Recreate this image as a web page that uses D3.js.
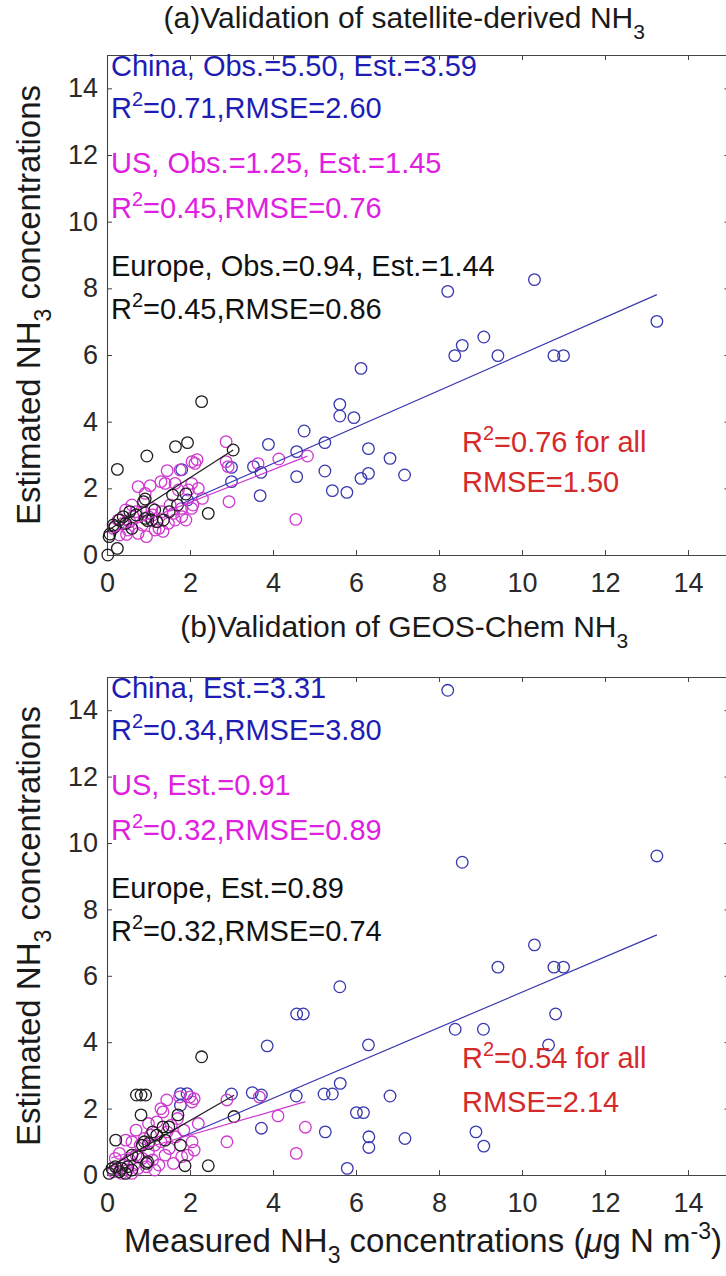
<!DOCTYPE html>
<html><head><meta charset="utf-8">
<script src="https://cdn.jsdelivr.net/npm/d3@7"></script>
<style>body{margin:0;background:#fff}svg{display:block}text{font-family:"Liberation Sans",Arial,Helvetica,sans-serif}</style>
</head><body><svg id="c" width="726" height="1276"></svg>
<script>
// ---------- data ----------
const xTicks=[0,2,4,6,8,10,12,14];
const yTicks=[0,2,4,6,8,10,12,14];

// Panel (a) satellite-derived: [measured, estimated]
const chinaA=[[10.3,8.26],[8.21,7.91],[13.25,7.01],[9.08,6.54],[8.56,6.29],[8.38,5.98],[9.42,5.98],[10.77,5.98],[11.0,5.98],[6.12,5.6],[5.61,4.52],[5.61,4.17],[5.95,4.12],[4.75,3.72],[5.25,3.37],[6.3,3.19],[6.82,2.9],[5.25,2.52],[6.3,2.45],[6.12,2.3],[7.17,2.4],[5.43,1.93],[5.78,1.88],[4.57,2.35],[3.89,3.32],[4.57,3.1],[3.53,2.65],[3.71,2.48],[3.0,2.63],[3.0,2.2],[3.69,1.78],[1.94,1.65],[1.8,2.56]];
const usA=[[2.87,3.4],[2.17,2.86],[2.05,2.8],[2.12,2.75],[2.87,2.8],[2.92,2.65],[2.94,1.6],[4.55,1.07],[4.83,2.97],[4.14,2.88],[3.64,2.74],[1.45,2.53],[1.76,2.55],[1.04,2.08],[0.75,2.05],[1.4,2.15],[1.3,2.2],[0.92,1.85],[2.04,2.15],[1.96,1.95],[1.72,1.95],[1.64,2.15],[2.07,1.5],[1.35,0.71],[0.6,1.5],[1.08,1.4],[1.52,1.5],[1.8,1.4],[2.04,1.4],[0.39,0.95],[0.51,0.75],[0.75,0.65],[1.16,0.75],[1.25,0.8],[1.48,0.95],[1.64,1.05],[1.8,1.15],[0.63,1.15],[0.27,1.05],[1.0,1.15],[1.1,1.2],[1.32,1.3],[0.15,0.8],[0.47,0.62],[0.88,1.3],[0.7,1.3],[0.55,1.0],[0.85,0.9],[1.2,1.0],[0.3,0.6],[0.95,0.55],[1.6,1.25],[0.45,1.35],[2.3,1.7],[1.9,1.05],[2.2,2.0]];
const europeA=[[0.02,0.0],[0.25,0.2],[0.07,0.63],[0.05,0.55],[0.15,0.9],[0.19,0.85],[0.39,1.15],[0.55,1.3],[0.25,2.57],[0.96,2.97],[1.65,3.25],[1.94,3.37],[2.28,4.6],[3.04,3.15],[2.44,1.25],[0.92,1.68],[0.88,1.6],[1.58,1.8],[1.9,1.83],[0.92,1.1],[0.98,1.03],[1.08,1.05],[1.2,1.0],[1.36,1.05],[0.7,1.2],[0.45,0.95],[0.3,1.05],[1.5,1.3],[1.7,1.5],[0.6,0.8],[1.15,1.35]];

// Panel (b) GEOS-Chem
const chinaB=[[8.21,14.6],[8.56,9.42],[13.25,9.61],[10.3,6.93],[9.42,6.26],[10.77,6.26],[11.0,6.26],[5.61,5.67],[10.81,4.85],[8.39,4.39],[9.07,4.39],[4.57,4.85],[4.73,4.85],[3.86,3.89],[6.3,3.92],[10.64,3.92],[5.62,2.76],[5.23,2.44],[5.43,2.44],[4.56,2.38],[3.72,2.41],[3.5,2.48],[3.0,2.44],[6.82,2.38],[6.01,1.88],[6.18,1.88],[5.26,1.3],[6.31,1.15],[6.31,0.83],[7.18,1.1],[8.89,1.3],[9.08,0.87],[5.79,0.2],[3.72,1.41],[1.77,2.1],[1.77,2.45],[1.93,2.45]];
const usB=[[0.15,0.1],[0.25,0.2],[0.35,0.05],[0.4,0.3],[0.5,0.15],[0.55,0.45],[0.6,0.05],[0.65,0.3],[0.7,0.6],[0.75,0.2],[0.8,0.9],[0.85,0.5],[0.9,1.1],[0.95,0.25],[1.0,0.7],[1.05,1.2],[1.1,0.45],[1.15,0.9],[1.2,1.6],[1.25,0.3],[1.3,1.0],[1.35,1.9],[1.4,0.6],[1.44,2.26],[1.45,1.3],[1.5,0.8],[1.55,1.5],[1.6,0.35],[1.65,1.15],[1.7,1.7],[1.8,0.55],[1.85,1.35],[1.94,0.6],[2.0,2.35],[2.05,1.0],[2.1,2.3],[2.1,0.75],[2.2,1.55],[2.89,2.26],[2.89,1.0],[3.67,2.35],[4.12,1.78],[4.78,1.44],[4.56,0.65],[0.45,1.05],[0.3,0.65],[0.6,1.0],[1.0,1.55],[1.3,2.0],[0.7,1.35],[0.2,0.5],[1.15,0.15],[1.75,2.35],[2.05,2.2]];
const europeB=[[0.05,0.05],[0.12,0.2],[0.2,0.25],[0.3,0.1],[0.35,0.2],[0.45,0.05],[0.5,0.25],[0.6,0.15],[0.21,1.05],[0.71,2.41],[0.82,2.41],[0.93,2.41],[0.82,1.81],[0.9,1.0],[1.0,0.95],[0.95,0.35],[0.98,0.4],[1.2,1.2],[1.35,1.45],[1.49,1.45],[1.71,1.81],[1.77,0.9],[1.88,0.28],[2.44,0.28],[2.28,3.56],[3.06,1.76],[0.75,0.55],[1.1,1.3],[0.6,0.6],[1.4,1.05],[0.85,0.9]];

// fitted lines: [xStart, xEnd, slope, intercept]
const fitChinaA=[1.8,13.25,0.548,0.55];
const fitUSA=[0.11,4.83,0.49,0.6];
const fitEuropeA=[0.02,3.04,0.8,0.72];
const fitChinaB=[1.72,13.25,0.532,0.185];
const fitUSB=[0.1,4.78,0.363,0.475];
const fitEuropeB=[0.02,3.06,0.72,0.2];

// annotation texts
const titleA="(a)Validation of satellite-derived NH";
const titleB="(b)Validation of GEOS-Chem NH";
const headA=["China, Obs.=5.50, Est.=3.59","US, Obs.=1.25, Est.=1.45","Europe, Obs.=0.94, Est.=1.44"];
const r2A=["0.71","0.45","0.45"];
const rmseA=["2.60","0.76","0.86"];
const headB=["China, Est.=3.31","US, Est.=0.91","Europe, Est.=0.89"];
const r2B=["0.34","0.32","0.32"];
const rmseB=["3.80","0.89","0.74"];
const allA=["0.76","1.50"];
const allB=["0.54","2.14"];

// ---------- drawing ----------
const svg=d3.select("#c");
const FONT='"Liberation Sans",Arial,Helvetica,sans-serif';
const COL={China:"#3838b0",US:"#d038d0",Europe:"#1e1e1e"};
const TXT={China:"#1d1db5",US:"#e020e0",Europe:"#111"};
const RED="#d42a2a";
const AX="#444";
const left=107, right=729.5;
const x=d3.scaleLinear().domain([0,15]).range([left,right]);

function drawPanel(cfg){
  const y=d3.scaleLinear().domain([0,15]).range([cfg.bottom,cfg.top]);
  const g=svg.append("g");
  // title
  const t=g.append("text").attr("x",(left+right)/2-14).attr("y",cfg.top-(cfg.titleOff))
    .attr("text-anchor","middle").attr("font-size",30).attr("fill","#1a1a1a");
  t.append("tspan").text(cfg.title);
  t.append("tspan").attr("dy",11).attr("font-size",21).text("3");

  // axes
  const bottomAx=d3.axisBottom(x).tickValues(xTicks).tickSizeInner(-5).tickSizeOuter(0).tickPadding(18);
  const topAx=d3.axisTop(x).tickValues(xTicks).tickSizeInner(-5).tickSizeOuter(0).tickFormat("");
  const leftAx=d3.axisLeft(y).tickValues(yTicks).tickSizeInner(-5).tickSizeOuter(0).tickPadding(9);
  const rightAx=d3.axisRight(y).tickValues(yTicks).tickSizeInner(-5).tickSizeOuter(0).tickFormat("");
  const styleAx=s=>{s.select(".domain").attr("stroke",AX).attr("stroke-width",1.1);
    s.selectAll(".tick line").attr("stroke",AX).attr("stroke-width",1);
    s.selectAll(".tick text").attr("font-size",27).attr("font-family",FONT).attr("fill","#2a2a2a");};
  g.append("g").attr("transform",`translate(0,${cfg.bottom})`).call(bottomAx).call(styleAx);
  g.append("g").attr("transform",`translate(0,${cfg.top})`).call(topAx).call(styleAx);
  g.append("g").attr("transform",`translate(${left},0)`).call(leftAx).call(styleAx);
  g.append("g").attr("transform",`translate(${right},0)`).call(rightAx).call(styleAx);

  // y label
  const yl=g.append("text").attr("transform",`translate(40,${(cfg.top+cfg.bottom)/2}) rotate(-90)`)
    .attr("text-anchor","middle").attr("font-size",33).attr("fill","#1a1a1a");
  yl.append("tspan").text("Estimated NH");
  yl.append("tspan").attr("dy",11).attr("font-size",23).text("3");
  yl.append("tspan").attr("dy",-11).text(" concentrations");

  // scatter
  const pts=g.append("g");
  cfg.series.forEach(s=>{
    pts.selectAll(null).data(s.data).enter().append("circle")
      .attr("cx",d=>x(d[0])).attr("cy",d=>y(d[1])).attr("r",5.8)
      .attr("fill","none").attr("stroke",COL[s.name]).attr("stroke-width",1.3);
  });
  // fit lines
  cfg.series.forEach(s=>{
    const f=s.fit;
    g.append("line").attr("x1",x(f[0])).attr("y1",y(f[2]*f[0]+f[3]))
      .attr("x2",x(f[1])).attr("y2",y(f[2]*f[1]+f[3]))
      .attr("stroke",COL[s.name]).attr("stroke-width",1.2);
  });

  // annotations
  const offs=[21,63,118,163,221,264];
  cfg.series.forEach((s,i)=>{
    g.append("text").attr("x",111).attr("y",cfg.top+offs[2*i]).attr("font-size",29)
      .attr("fill",TXT[s.name]).text(cfg.head[i]);
    const r=g.append("text").attr("x",111).attr("y",cfg.top+offs[2*i+1]).attr("font-size",29).attr("fill",TXT[s.name]);
    r.append("tspan").text("R");
    r.append("tspan").attr("dy",-12).attr("font-size",20).text("2");
    r.append("tspan").attr("dy",12).text("="+cfg.r2[i]+",RMSE="+cfg.rmse[i]);
  });
  const a1=g.append("text").attr("x",462).attr("y",cfg.bottom-cfg.redOff[0]).attr("font-size",29).attr("fill",RED);
  a1.append("tspan").text("R");
  a1.append("tspan").attr("dy",-12).attr("font-size",20).text("2");
  a1.append("tspan").attr("dy",12).text("="+cfg.all[0]+" for all");
  g.append("text").attr("x",462).attr("y",cfg.bottom-cfg.redOff[1]).attr("font-size",29).attr("fill",RED).text("RMSE="+cfg.all[1]);
}

drawPanel({top:55,bottom:555,titleOff:27,title:titleA,redOff:[103,63],
  head:headA,r2:r2A,rmse:rmseA,all:allA,
  series:[{name:"China",data:chinaA,fit:fitChinaA},{name:"US",data:usA,fit:fitUSA},{name:"Europe",data:europeA,fit:fitEuropeA}]});
drawPanel({top:677,bottom:1175,titleOff:40,title:titleB,redOff:[107,63],
  head:headB,r2:r2B,rmse:rmseB,all:allB,
  series:[{name:"China",data:chinaB,fit:fitChinaB},{name:"US",data:usB,fit:fitUSB},{name:"Europe",data:europeB,fit:fitEuropeB}]});

// x-axis title
const xt=svg.append("text").attr("x",423).attr("y",1252).attr("text-anchor","middle")
  .attr("font-size",33).attr("fill","#1a1a1a");
xt.append("tspan").text("Measured NH");
xt.append("tspan").attr("dy",11).attr("font-size",23).text("3");
xt.append("tspan").attr("dy",-11).text(" concentrations (");
xt.append("tspan").attr("font-style","italic").text("μ");
xt.append("tspan").text("g N m");
xt.append("tspan").attr("dy",-13).attr("font-size",23).text("-3");
xt.append("tspan").attr("dy",13).text(")");
</script></body></html>
